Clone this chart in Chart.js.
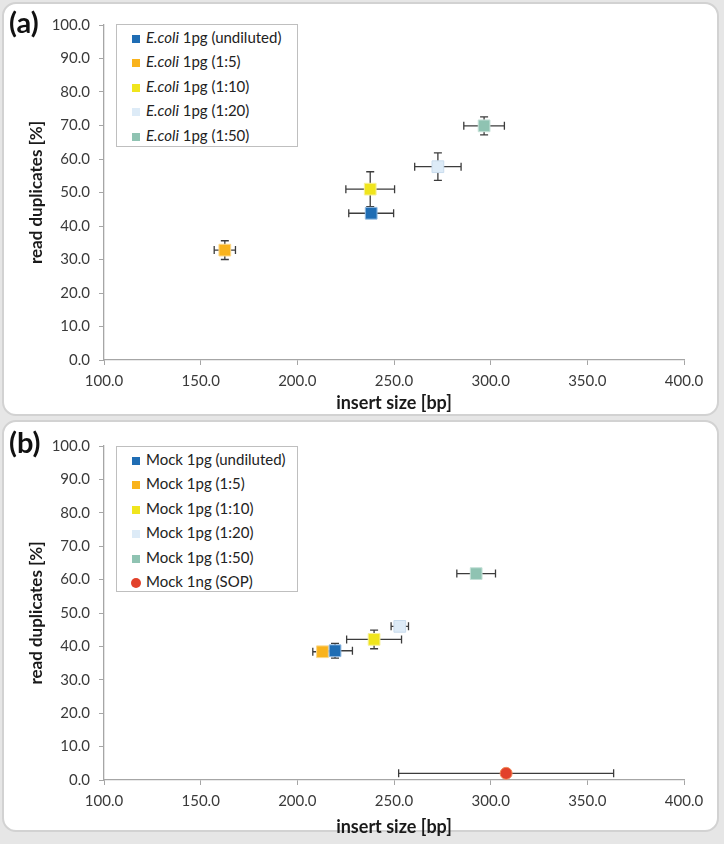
<!DOCTYPE html>
<html>
<head>
<meta charset="utf-8">
<script src="https://cdn.jsdelivr.net/npm/chart.js@4.4.1/dist/chart.umd.min.js"></script>
<style>
  body { margin: 0; background: #e6e6e6; font-family: Lato, sans-serif; }
  #page { position: relative; width: 724px; height: 844px; overflow: hidden; }
  .panel { position: absolute; left: 2px; width: 717px; box-sizing: border-box;
           background: #fff; border: 2px solid #d2d2d2; border-radius: 14px; }
  canvas { position: absolute; left: 0; }
  .tag { position: absolute; left: 9px; font: bold 29px Lato, sans-serif; color: #111; }
  .legend { position: absolute; left: 116px; width: 182px; box-sizing: border-box;
            background: #fff; border: 1px solid #bfbfbf; padding: 0 0 0 15px;
            font: 15px Lato, sans-serif; color: #222; }
  .legend div { height: 24.4px; line-height: 24px; white-space: nowrap; }
  .legend span.sw { display: inline-block; width: 8px; height: 8px; margin-right: 6px; vertical-align: 0px; }
  .legend span.dot { width: 10px; height: 10px; border-radius: 50%; margin-left: -1px; margin-right: 5px; vertical-align: -1px; }
</style>
</head>
<body>
<div id="page">
  <div class="panel" style="top:2px;height:414px"></div>
  <div class="panel" style="top:420px;height:412px"></div>
  <canvas id="chartA" width="724" height="418" style="top:0"></canvas>
  <canvas id="chartB" width="724" height="424" style="top:420px"></canvas>
  <div class="tag" style="top:4px">(a)</div>
  <div class="tag" style="top:424px">(b)</div>
  <div class="legend" id="legendA" style="top:24px;height:123px"></div>
  <div class="legend" id="legendB" style="top:446px;height:146px"></div>
</div>
<script>
// ---- data
const xTicks = [100, 150, 200, 250, 300, 350, 400];
const yTicks = [0, 10, 20, 30, 40, 50, 60, 70, 80, 90, 100];

const colors = ['#1f6db4', '#f9b31c', '#f0e51d', '#ddebf7', '#8fc3b2', '#e2412a'];
const edges  = ['#8fb8e0', '#fbd88a', '#f7f09a', '#c9dced', '#c6e1d8', '#f08a5a'];

// (a) E.coli
const namesA   = ['E.coli 1pg (undiluted)', 'E.coli 1pg (1:5)', 'E.coli 1pg (1:10)', 'E.coli 1pg (1:20)', 'E.coli 1pg (1:50)'];
const sizeA    = [238.2, 162.5, 237.7, 272.7, 296.6];
const sizeErrA = [11.6, 5.5, 12.6, 12.0, 10.5];
const dupA     = [43.8, 32.8, 51.0, 57.7, 69.9];
const dupErrA  = [1.5, 2.8, 5.2, 4.1, 2.7];

// (b) Mock
const namesB   = ['Mock 1pg (undiluted)', 'Mock 1pg (1:5)', 'Mock 1pg (1:10)', 'Mock 1pg (1:20)', 'Mock 1pg (1:50)', 'Mock 1ng (SOP)'];
const sizeB    = [219.5, 213.0, 239.7, 253.0, 292.5, 308.0];
const sizeErrB = [9.0, 5.0, 14.2, 4.5, 10.0, 55.6];
const dupB     = [38.7, 38.4, 42.1, 46.0, 61.8, 2.0];
const dupErrB  = [2.2, 1.2, 2.8, 1.0, 1.5, 0];

// error bars drawn behind the markers
const errorBars = {
  id: 'errorBars',
  beforeDatasetsDraw(chart) {
    const { ctx, scales: { x, y } } = chart;
    ctx.save();
    ctx.strokeStyle = '#3c3c3c';
    ctx.lineWidth = 1.3;
    const cap = 4;
    chart.data.datasets.forEach(ds => {
      const d = ds.data[0];
      const px = x.getPixelForValue(d.x), py = y.getPixelForValue(d.y);
      ctx.beginPath();
      if (d.xErr) {
        const x0 = x.getPixelForValue(d.x - d.xErr), x1 = x.getPixelForValue(d.x + d.xErr);
        ctx.moveTo(x0, py); ctx.lineTo(x1, py);
        ctx.moveTo(x0, py - cap); ctx.lineTo(x0, py + cap);
        ctx.moveTo(x1, py - cap); ctx.lineTo(x1, py + cap);
      }
      if (d.yErr) {
        const y0 = y.getPixelForValue(d.y - d.yErr), y1 = y.getPixelForValue(d.y + d.yErr);
        ctx.moveTo(px, y0); ctx.lineTo(px, y1);
        ctx.moveTo(px - cap, y0); ctx.lineTo(px + cap, y0);
        ctx.moveTo(px - cap, y1); ctx.lineTo(px + cap, y1);
      }
      ctx.stroke();
    });
    ctx.restore();
  }
};

function makeChart(id, names, xs, xe, ys, ye, top, xHeight, xTitlePad) {
  const datasets = names.map((n, i) => ({
    label: n,
    data: [{ x: xs[i], y: ys[i], xErr: xe[i], yErr: ye[i] }],
    backgroundColor: colors[i],
    borderColor: edges[i],
    borderWidth: 1,
    pointStyle: n.includes('SOP') ? 'circle' : 'rect',
    pointRadius: n.includes('SOP') ? 6 : 8.3
  }));
  const axisColor = '#a6a6a6';
  return new Chart(document.getElementById(id), {
    type: 'scatter',
    data: { datasets },
    plugins: [errorBars],
    options: {
      responsive: false,
      animation: false,
      devicePixelRatio: 1,
      layout: { padding: { left: 0, right: 40, top: top, bottom: 0 } },
      plugins: { legend: { display: false }, tooltip: { enabled: false } },
      scales: {
        x: {
          type: 'linear', min: 100, max: 400,
          afterBuildTicks: s => { s.ticks = xTicks.map(v => ({ value: v })); },
          afterFit: s => { s.height = xHeight; },
          ticks: { padding: 7, color: '#3a3a3a', font: { family: 'Lato', size: 15 },
                   callback: v => v.toFixed(1) },
          grid: { drawOnChartArea: false, drawTicks: true, tickLength: 5, color: axisColor },
          border: { color: axisColor, width: 1.3 },
          title: { display: true, text: 'insert size [bp]', color: '#1a1a1a',
                   font: { family: 'Lato', size: 18, weight: 'bold' },
                   padding: { top: 0, bottom: xTitlePad } }
        },
        y: {
          type: 'linear', min: 0, max: 100,
          afterBuildTicks: s => { s.ticks = yTicks.map(v => ({ value: v })); },
          afterFit: s => { s.width = 104; },
          ticks: { padding: 9, color: '#3a3a3a', font: { family: 'Lato', size: 15 },
                   callback: v => v.toFixed(1) },
          grid: { drawOnChartArea: false, drawTicks: true, tickLength: 5, color: axisColor },
          border: { color: axisColor, width: 1.3 },
          title: { display: true, text: 'read duplicates [%]', color: '#1a1a1a',
                   font: { family: 'Lato', size: 17, weight: 'bold' },
                   padding: { top: 26, bottom: 0 } }
        }
      }
    }
  });
}

function makeLegend(id, names) {
  const box = document.getElementById(id);
  names.forEach((n, i) => {
    const row = document.createElement('div');
    const sw = document.createElement('span');
    sw.className = n.includes('SOP') ? 'sw dot' : 'sw';
    sw.style.background = colors[i];
    row.appendChild(sw);
    if (n.startsWith('E.coli')) {
      const it = document.createElement('i');
      it.textContent = 'E.coli';
      row.appendChild(it);
      row.appendChild(document.createTextNode(n.slice(6)));
    } else {
      row.appendChild(document.createTextNode(n));
    }
    box.appendChild(row);
  });
}

makeChart('chartA', namesA, sizeA, sizeErrA, dupA, dupErrA, 25, 58, 4);
makeChart('chartB', namesB, sizeB, sizeErrB, dupB, dupErrB, 26, 64, 6);
makeLegend('legendA', namesA);
makeLegend('legendB', namesB);
</script>
</body>
</html>
